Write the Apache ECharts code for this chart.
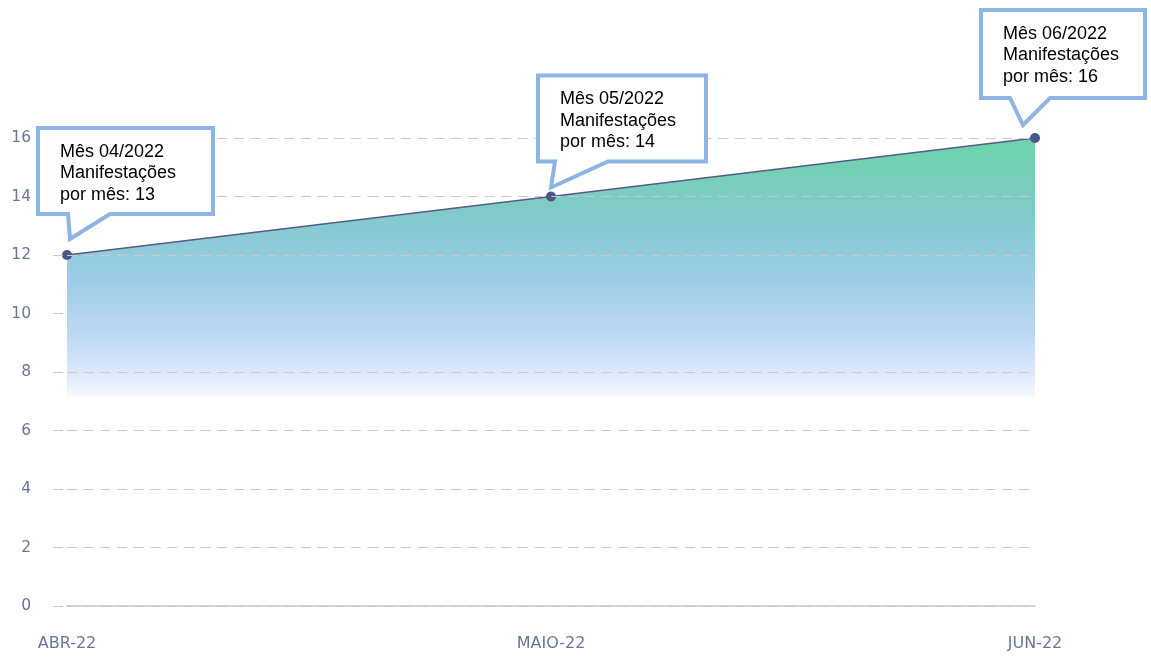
<!DOCTYPE html>
<html>
<head>
<meta charset="utf-8">
<script src="https://cdn.jsdelivr.net/npm/echarts@6/dist/echarts.min.js"></script>
<style>
html,body{margin:0;padding:0;background:#fff;}
#chart{width:1151px;height:657px;}
</style>
</head>
<body>
<div id="chart"></div>
<script>
const categories = ['ABR-22', 'MAIO-22', 'JUN-22'];
const values = [12, 14, 16];
const calloutMonths = ['04/2022', '05/2022', '06/2022'];
const calloutCounts = [13, 14, 16];
const yTicks = [0, 2, 4, 6, 8, 10, 12, 14, 16];

// callout box geometry relative to the data point (pixels, outer edges)
const calloutShapes = [
  {L: -31, R: 148, T: -129, B: -39, tl: 1, tr: 43, tip: [3, -13]},
  {L: -15, R: 157, T: -123, B: -33, tl: 4, tr: 57, tip: [0, -6]},
  {L: -56, R: 112, T: -130, B: -38, tl: -25, tr: 15, tip: [-12, -10]}
];

const chart = echarts.init(document.getElementById('chart'), null, {renderer: 'canvas'});
const labelColor = '#69769a';
const option = {
  animation: false,
  backgroundColor: '#ffffff',
  grid: {left: 67, right: 116, top: 138, bottom: 51, containLabel: false},
  xAxis: {
    type: 'category',
    data: categories,
    boundaryGap: false,
    axisLine: {show: true, lineStyle: {color: '#c8c8c8', width: 1.5}},
    axisTick: {show: false},
    axisLabel: {color: labelColor, fontFamily: 'DejaVu Sans', fontSize: 16, margin: 30}
  },
  yAxis: {
    type: 'value',
    min: yTicks[0],
    max: yTicks[yTicks.length - 1],
    interval: 2,
    z: 3,
    axisLine: {show: false},
    axisTick: {show: true, length: 14, lineStyle: {color: '#c6c9d1', width: 1, type: [10, 4], dashOffset: 10}},
    axisLabel: {color: labelColor, fontFamily: 'DejaVu Sans', fontSize: 15.5, margin: 36},
    splitLine: {show: true, lineStyle: {color: '#c6c9d1', width: 1, type: [10, 6.7]}}
  },
  series: [{
    type: 'line',
    data: values,
    symbol: 'circle',
    symbolSize: 10,
    z: 2,
    itemStyle: {color: '#4b5583'},
    lineStyle: {color: '#545c85', width: 1.6},
    areaStyle: {
      opacity: 1,
      color: new echarts.graphic.LinearGradient(0, 0, 0, 1, [
        {offset: 0, color: '#6cd3a7'},
        {offset: 0.17, color: '#82cacd'},
        {offset: 0.3, color: '#9ccce6'},
        {offset: 0.42, color: '#bdd8f3'},
        {offset: 0.5, color: '#dbe8fb'},
        {offset: 0.553, color: '#f6f9ff'},
        {offset: 0.556, color: 'rgba(255,255,255,0)'},
        {offset: 1, color: 'rgba(255,255,255,0)'}
      ])
    }
  }]
};
chart.setOption(option);

const graphics = [];
values.forEach(function (v, i) {
  const p = chart.convertToPixel({seriesIndex: 0}, [i, v]);
  const s = calloutShapes[i];
  const px = p[0], py = p[1];
  const L = px + s.L + 2, R = px + s.R - 2, T = py + s.T + 2, B = py + s.B - 2;
  const pts = [
    [L, T], [R, T], [R, B], [px + s.tr, B],
    [px + s.tip[0], py + s.tip[1] - 3], [px + s.tl, B], [L, B]
  ];
  graphics.push({
    type: 'polygon',
    shape: {points: pts},
    style: {fill: '#ffffff', stroke: '#8eb4e3', lineWidth: 4, lineJoin: 'miter'},
    z: 100
  });
  graphics.push({
    type: 'text',
    x: px + s.L + 24,
    y: py + s.T + 15,
    style: {
      text: 'Mês ' + calloutMonths[i] + '\nManifestações\npor mês: ' + calloutCounts[i],
      font: '18px "Liberation Sans", Arial, sans-serif',
      lineHeight: 21.5,
      fill: '#000000',
      verticalAlign: 'top',
      align: 'left'
    },
    z: 101
  });
});
chart.setOption({graphic: graphics});
</script>
</body>
</html>
